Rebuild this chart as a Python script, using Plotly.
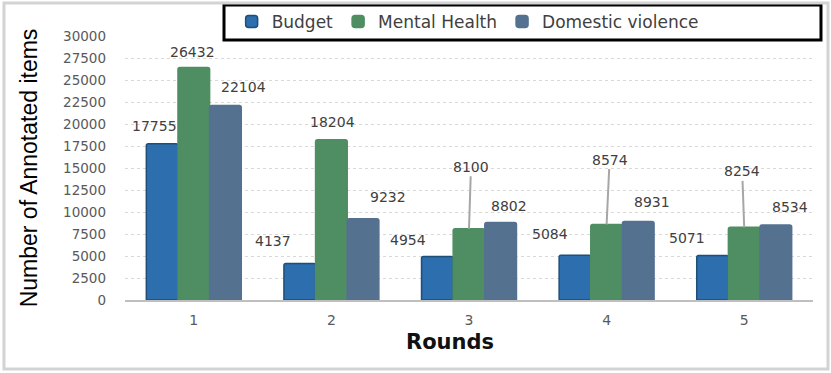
import plotly.graph_objects as go

rounds = ["1", "2", "3", "4", "5"]
budget = [17755, 4137, 4954, 5084, 5071]
mental_health = [26432, 18204, 8100, 8574, 8254]
domestic_violence = [22104, 9232, 8802, 8931, 8534]

colors = {"Budget": "#2C6EAE", "Mental Health": "#4F8E62", "Domestic violence": "#547190"}
edges = {"Budget": "#1F4E79", "Mental Health": "#4F8E62", "Domestic violence": "#547190"}

# label offsets in px from (category centre, bar top): (dx, dy up)
budget_off = [(-39, 18), (-58, 23), (-61, 16), (-57, 21), (-57, 17)]
mental_off = [(-1, 15), (1, 18), (2, 62), (3, 65), (-2, 56)]
mental_leader = [False, False, True, True, True]
domestic_off = [(50, 18), (57, 22), (40, 17), (45, 19), (46, 18)]

fig = go.Figure()
for name, vals in [("Budget", budget), ("Mental Health", mental_health),
                   ("Domestic violence", domestic_violence)]:
    fig.add_trace(go.Bar(x=rounds, y=vals, name=name,
                         marker=dict(color=colors[name], cornerradius=2,
                                     line=dict(width=1.5, color=edges[name]))))

label_font = dict(family="DejaVu Sans", size=14, color="#404040")
# on a category axis annotations are placed by category index
for i in range(len(rounds)):
    for vals, off in [(budget, budget_off[i]), (domestic_violence, domestic_off[i])]:
        fig.add_annotation(x=i, y=vals[i], text=str(vals[i]), showarrow=False,
                           xshift=off[0], yshift=off[1], font=label_font)
    dx, dy = mental_off[i]
    if mental_leader[i]:
        fig.add_annotation(x=i, y=mental_health[i], text=str(mental_health[i]),
                           showarrow=True, arrowhead=0, arrowwidth=2,
                           arrowcolor="#A6A6A6", ax=dx, ay=-dy, standoff=0,
                           font=label_font)
    else:
        fig.add_annotation(x=i, y=mental_health[i], text=str(mental_health[i]),
                           showarrow=False, xshift=dx, yshift=dy, font=label_font)

fig.add_annotation(text="Rounds", x=0.472, y=-0.159, xref="paper", yref="paper",
                   showarrow=False, yanchor="middle",
                   font=dict(family="DejaVu Sans", size=21, color="#111111",
                             weight="bold"))

# legend frame and outer border
fig.add_shape(type="rect", xref="paper", yref="paper", x0=0.1439, x1=1.0116,
              y0=0.985, y1=1.1174, line=dict(color="black", width=3), layer="above")
fig.add_shape(type="rect", xref="paper", yref="paper", x0=-0.1759, x1=1.0218,
              y0=-0.2614, y1=1.125, line=dict(color="#D3D3D3", width=3))

fig.update_layout(
    width=831, height=373,
    margin=dict(l=125, r=18, t=36, b=73, autoexpand=False),
    paper_bgcolor="white", plot_bgcolor="white",
    barmode="group", bargap=0.31, bargroupgap=0,
    font=dict(family="DejaVu Sans", color="#595959"),
    legend=dict(orientation="h", x=0.155, xanchor="left", y=1.053, yanchor="middle",
                font=dict(family="DejaVu Sans", size=17, color="#404040"),
                bgcolor="rgba(0,0,0,0)", borderwidth=0),
    xaxis=dict(type="category", showline=True, linecolor="#BFBFBF", linewidth=2,
               ticks="", ticklabelstandoff=6,
               tickfont=dict(size=14, color="#595959"), showgrid=False),
    yaxis=dict(range=[0, 30000], dtick=2500, tickformat="d", automargin=False,
               showgrid=True, gridcolor="#D9D9D9", griddash="dot", gridwidth=1,
               zeroline=False, ticklabelstandoff=18,
               tickfont=dict(size=13.5, color="#595959"),
               title=dict(text="Number of Annotated items", standoff=18,
                          font=dict(family="Liberation Sans", size=23, color="black"))),
)

fig.write_html("out.html", config={"displayModeBar": False},
               post_script="document.body.style.margin='0px';")
